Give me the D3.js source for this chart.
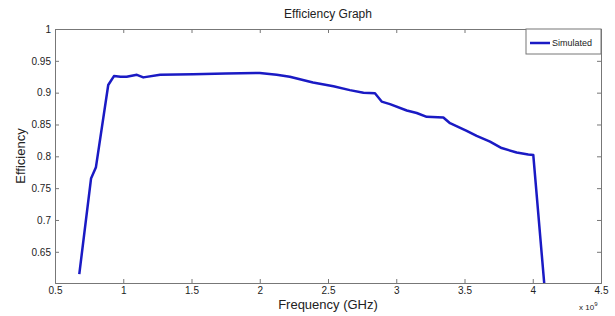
<!DOCTYPE html>
<html>
<head>
<meta charset="utf-8">
<script src="https://cdn.jsdelivr.net/npm/d3@7"></script>
<style>
  body { margin: 0; background: #fff; }
  svg { font-family: "Liberation Sans", Arial, sans-serif; }
  .axis path, .axis line { stroke: #777; }
  .axis text { fill: #222; font-size: 10px; }
</style>
</head>
<body>
<svg id="svg"></svg>
<script>
// Efficiency graph (frequency in units of 1e9 Hz)

const freq = [0.678, 0.764, 0.80, 0.89, 0.932, 0.98, 1.025, 1.10, 1.147, 1.27, 1.513, 1.75, 2.0,
  2.124, 2.22, 2.39, 2.54, 2.66, 2.76, 2.844, 2.893, 2.954, 3.077, 3.15, 3.223, 3.345, 3.394,
  3.516, 3.589, 3.687, 3.772, 3.882, 3.967, 4.004, 4.085];
const efficiency = [0.615, 0.765, 0.783, 0.912, 0.926, 0.925, 0.925, 0.928, 0.924, 0.928, 0.929, 0.930, 0.931,
  0.928, 0.925, 0.916, 0.910, 0.904, 0.900, 0.899, 0.886, 0.882, 0.872, 0.868, 0.862, 0.861, 0.852,
  0.840, 0.832, 0.823, 0.813, 0.806, 0.803, 0.802, 0.598];
const xTicks = [0.5, 1, 1.5, 2, 2.5, 3, 3.5, 4, 4.5];
const yTicks = [0.65, 0.7, 0.75, 0.8, 0.85, 0.9, 0.95, 1];

const width = 615;
const height = 316;
const margin = { top: 29, left: 55, bottom: 33, right: 14 };

const svg = d3.select("#svg").attr("width", width).attr("height", height);

const x = d3.scaleLinear()
    .domain([0.5, 4.5])
    .range([margin.left, width - margin.right]);

const y = d3.scaleLinear()
    .domain([0.601, 1])
    .range([height - margin.bottom, margin.top]);

// axes with inward ticks on all four sides
svg.append("g")
    .attr("class", "axis")
    .attr("transform", `translate(0,${height - margin.bottom})`)
    .call(d3.axisBottom(x).tickValues(xTicks).tickSize(-4).tickPadding(4).tickFormat(d3.format("")));

svg.append("g")
    .attr("class", "axis")
    .attr("transform", `translate(0,${margin.top})`)
    .call(d3.axisTop(x).tickValues(xTicks).tickSize(-4).tickFormat(""));

svg.append("g")
    .attr("class", "axis")
    .attr("transform", `translate(${margin.left},0)`)
    .call(d3.axisLeft(y).tickValues(yTicks).tickSize(-4).tickPadding(4).tickFormat(d3.format("")));

svg.append("g")
    .attr("class", "axis")
    .attr("transform", `translate(${width - margin.right},0)`)
    .call(d3.axisRight(y).tickValues(yTicks).tickSize(-4).tickFormat(""));

// clip the curve to the plot box
svg.append("clipPath")
    .attr("id", "clip")
    .append("rect")
    .attr("x", margin.left)
    .attr("y", margin.top)
    .attr("width", width - margin.left - margin.right)
    .attr("height", height - margin.top - margin.bottom);

const line = d3.line()
    .x((d, i) => x(freq[i]))
    .y((d) => y(d));

svg.append("path")
    .datum(efficiency)
    .attr("clip-path", "url(#clip)")
    .attr("d", line)
    .attr("fill", "none")
    .attr("stroke", "#1a1ac4")
    .attr("stroke-width", 2.5)
    .attr("stroke-linejoin", "round");

// legend
const legend = svg.append("g");
legend.append("rect")
    .attr("x", 526)
    .attr("y", margin.top)
    .attr("width", width - margin.right - 526)
    .attr("height", 25)
    .attr("fill", "#fff")
    .attr("stroke", "#777");
legend.append("line")
    .attr("x1", 530).attr("x2", 550)
    .attr("y1", 43).attr("y2", 43)
    .attr("stroke", "#1a1ac4")
    .attr("stroke-width", 2.5);
legend.append("text")
    .attr("x", 552)
    .attr("y", 46)
    .attr("fill", "#222")
    .style("font-size", "9px")
    .text("Simulated");

// titles and labels
svg.append("text")
    .attr("x", 328)
    .attr("y", 18)
    .attr("text-anchor", "middle")
    .attr("fill", "#222")
    .style("font-size", "12px")
    .text("Efficiency Graph");

svg.append("text")
    .attr("x", 328)
    .attr("y", 309)
    .attr("text-anchor", "middle")
    .attr("fill", "#222")
    .style("font-size", "13px")
    .text("Frequency (GHz)");

svg.append("text")
    .attr("transform", `translate(25,${(margin.top + height - margin.bottom) / 2}) rotate(-90)`)
    .attr("text-anchor", "middle")
    .attr("fill", "#222")
    .style("font-size", "13px")
    .text("Efficiency");

const expo = svg.append("text")
    .attr("x", 579)
    .attr("y", 310)
    .attr("fill", "#222")
    .style("font-size", "8px");
expo.append("tspan").text("x 10");
expo.append("tspan").attr("dy", -4).style("font-size", "6px").text("9");
</script>
</body>
</html>
